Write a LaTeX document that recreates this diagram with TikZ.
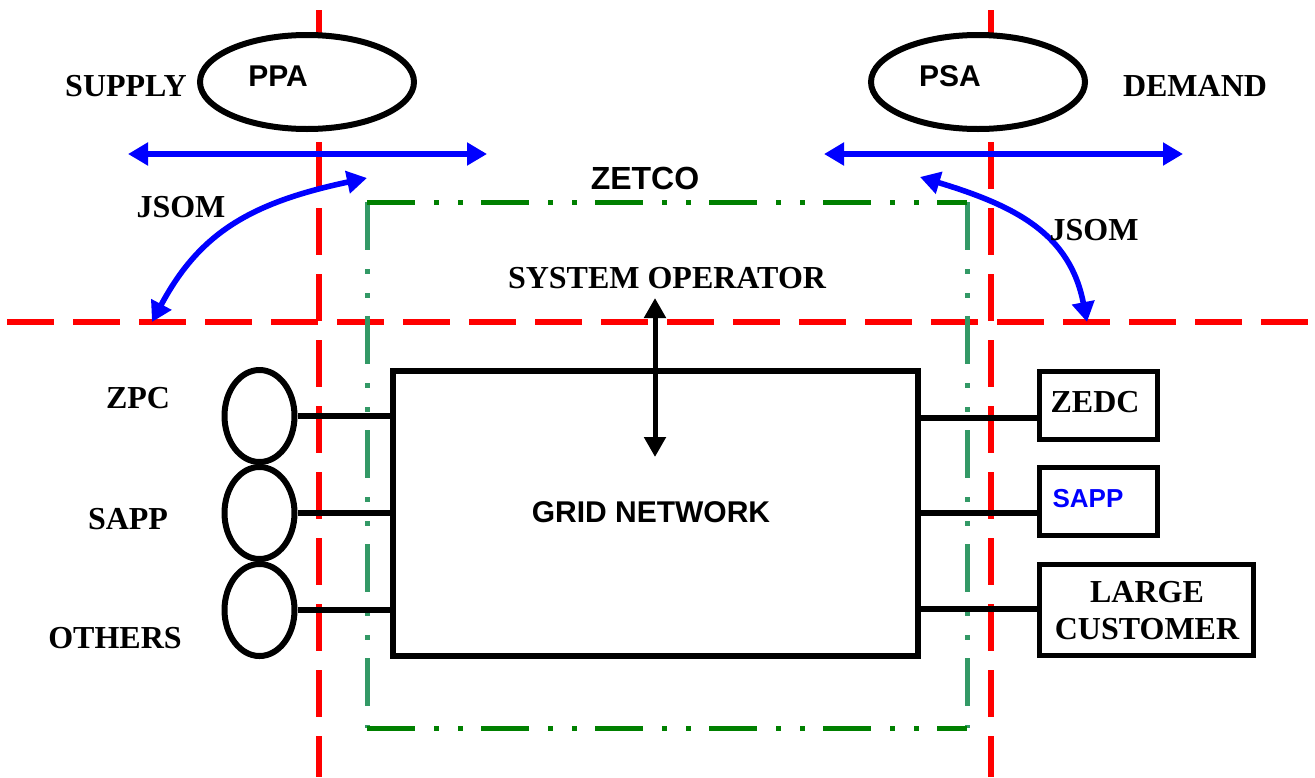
\documentclass[tikz,border=0pt]{standalone}
\usepackage{fontspec}
\setmainfont{Liberation Serif}
\newfontfamily\arialfont{Liberation Sans}
\usetikzlibrary{arrows.meta,shapes.geometric}
\definecolor{zred}{RGB}{255,0,0}
\definecolor{zgreen}{RGB}{0,128,0}
\definecolor{zsea}{RGB}{51,153,102}
\begin{document}
\begin{tikzpicture}[x=0.5pt,y=-0.5pt,
  redline/.style={draw=zred, line width=2.6pt, dash pattern=on 23.5pt off 9.5pt},
  greenh/.style={draw=zgreen, line width=2.5pt, dash pattern=on 24pt off 9.5pt on 2.5pt off 9.5pt on 2.5pt off 9pt},
  greenv/.style={draw=zsea, line width=2.5pt, dash pattern=on 24pt off 9.5pt on 2.5pt off 9.5pt on 2.5pt off 9pt},
  lbl/.style={font=\bfseries\fontsize{16}{18.5}\selectfont, inner sep=0pt, align=center},
  slbl/.style={font=\arialfont\bfseries\fontsize{15}{18}\selectfont, inner sep=0pt},
  oval/.style={ellipse, draw, line width=3pt, fill=white, inner sep=0pt},
  blk/.style={draw, line width=3pt, fill=white, inner sep=0pt},
  rbox/.style={draw, line width=2.6pt, fill=white, inner sep=0pt},
  conn/.style={draw, line width=2.7pt},
  barrow/.style={draw=blue, line width=2.8pt, {Triangle[length=10pt,width=11pt]}-{Triangle[length=10pt,width=11pt]}},
  karrow/.style={draw, line width=2.5pt, {Triangle[length=10pt,width=10.5pt]}-{Triangle[length=10pt,width=10.5pt]}}
]
\useasboundingbox (0,0) rectangle (1315,777);
\fill[white] (0,0) rectangle (1315,777);

% red boundary lines
\coordinate (rt1) at (319,10);
\coordinate (rb1) at (319,777);
\coordinate (rt2) at (991,10);
\coordinate (rb2) at (991,777);
\coordinate (hl) at (7,322);
\coordinate (hr) at (1310,322);
\draw[redline] (rt1) -- (rb1);
\draw[redline] (rt2) -- (rb2);
\draw[redline] (hl) -- (hr);

% green ZETCO box
\coordinate (g1) at (367,202);
\coordinate (g2) at (967,202);
\coordinate (g3) at (967,728);
\coordinate (g4) at (367,728);
\draw[greenv] (g1) -- (g4);
\draw[greenv] (g2) -- (g3);
\draw[greenh] (g1) -- (g2);
\draw[greenh] (g4) -- (g3);
\node[slbl, font=\arialfont\bfseries\fontsize{16}{18}\selectfont] (zetco) at (645,178) {ZETCO};

% top ellipses
\node[oval, minimum width=107pt, minimum height=47pt] (ppa) at (307,82) {};
\node[slbl] (ppat) at (278,76) {PPA};
\node[oval, minimum width=107pt, minimum height=47pt] (psa) at (978,82) {};
\node[slbl] (psat) at (950,76) {PSA};
\node[lbl] (supply) at (126,86) {SUPPLY};
\node[lbl] (demand) at (1195,86) {DEMAND};

% blue arrows
\coordinate (a1l) at (128,154);
\coordinate (a1r) at (487,154);
\coordinate (a2l) at (824,154);
\coordinate (a2r) at (1183,154);
\draw[barrow] (a1l) -- (a1r);
\draw[barrow] (a2l) -- (a2r);
\coordinate (c1a) at (152,322);
\coordinate (c1b) at (367,178);
\draw[barrow] (c1a) .. controls (199,234) and (249,203) .. (c1b);
\coordinate (c2a) at (920,177);
\coordinate (c2b) at (1087,322);
\draw[barrow] (c2a) .. controls (1016,206) and (1070,234) .. (c2b);
\node[lbl] (jsom1) at (181,207) {JSOM};
\node[lbl] (jsom2) at (1094,230) {JSOM};

% system operator
\node[lbl] (sysop) at (667,278) {SYSTEM OPERATOR};

% grid network
\node[blk, minimum width=262.5pt, minimum height=142.5pt] (grid) at (655,513) {};
\node[slbl] (gridt) at (651,512) {GRID NETWORK};
\coordinate (sa) at (655,298);
\coordinate (sb) at (655,457);
\draw[karrow] (sa) -- (sb);

% left generators
\node[oval, minimum width=35pt, minimum height=46pt] (e1) at (259.5,416) {};
\node[oval, minimum width=35pt, minimum height=46pt] (e2) at (259.5,513) {};
\node[oval, minimum width=35pt, minimum height=46pt] (e3) at (259.5,610) {};
\draw[conn] (e1.east) -- (grid.west |- e1.east);
\draw[conn] (e2.east) -- (grid.west |- e2.east);
\draw[conn] (e3.east) -- (grid.west |- e3.east);
\node[lbl] (zpc) at (138,398) {ZPC};
\node[lbl] (sappl) at (128,519) {SAPP};
\node[lbl] (others) at (115,638) {OTHERS};

% right customers
\node[rbox, minimum width=59pt, minimum height=34pt] (zedc) at (1098.5,405.5) {};
\node[lbl] (zedct) at (1095,402) {ZEDC};
\node[rbox, minimum width=59pt, minimum height=34pt] (sappr) at (1098.5,501.5) {};
\node[slbl, text=blue, font=\arialfont\bfseries\fontsize{13}{16}\selectfont] (sapprt) at (1088,499) {SAPP};
\node[rbox, minimum width=107pt, minimum height=45.5pt] (large) at (1146.5,610) {};
\node[lbl] (larget) at (1147,611) {LARGE\\CUSTOMER};
\coordinate (r1) at (0,418);
\coordinate (r2) at (0,513);
\coordinate (r3) at (0,609);
\draw[conn] (grid.east |- r1) -- (zedc.west |- r1);
\draw[conn] (grid.east |- r2) -- (sappr.west |- r2);
\draw[conn] (grid.east |- r3) -- (large.west |- r3);
\end{tikzpicture}
\end{document}
